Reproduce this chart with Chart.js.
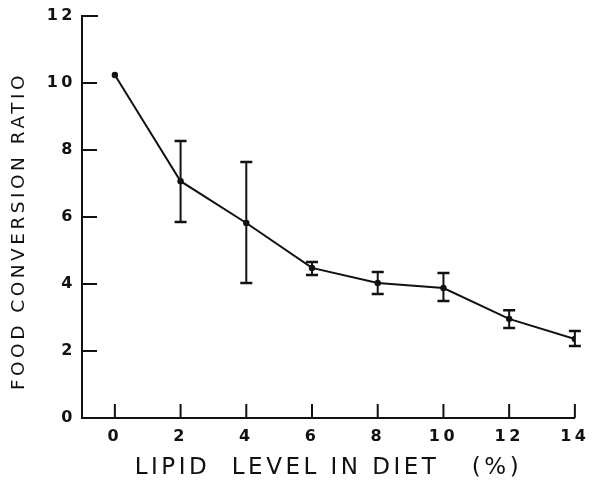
<!DOCTYPE html>
<html>
<head>
<meta charset="utf-8">
<script src="https://cdn.jsdelivr.net/npm/chart.js@4.4.1/dist/chart.umd.min.js"></script>
<style>
  html, body { margin: 0; padding: 0; background: #fff; }
  #wrap { width: 595px; height: 485px; }
</style>
</head>
<body>
<div id="wrap"><canvas id="fcrChart"></canvas></div>
<script>
// Chart Data
const lipidLevel = [0, 2, 4, 6, 8, 10, 12, 14];
const conversionRatio = [10.24, 7.07, 5.82, 4.48, 4.03, 3.88, 2.96, 2.36];
const errorHigh = [null, 8.27, 7.64, 4.66, 4.36, 4.33, 3.22, 2.60];
const errorLow = [null, 5.85, 4.03, 4.27, 3.70, 3.49, 2.69, 2.15];
const xTickValues = [0, 2, 4, 6, 8, 10, 12, 14];
const yTickValues = [0, 2, 4, 6, 8, 10, 12];

const ink = '#111';

// inward tick marks + error bars
const markPlugin = {
    id: 'marks',
    beforeDraw(chart) {
        // old spaced lettering
        chart.ctx.letterSpacing = '3.5px';
    },
    afterDatasetsDraw(chart) {
        const ctx = chart.ctx;
        const x = chart.scales.x;
        const y = chart.scales.y;
        ctx.save();
        ctx.strokeStyle = ink;
        ctx.lineWidth = 2;
        ctx.lineCap = 'butt';

        // y ticks point right into the plot
        yTickValues.forEach(v => {
            if (v === 0) return;
            const py = y.getPixelForValue(v);
            ctx.beginPath();
            ctx.moveTo(x.left, py);
            ctx.lineTo(x.left + (v === 12 ? 16 : 15), py);
            ctx.stroke();
        });
        // x ticks point up into the plot
        xTickValues.forEach(v => {
            const px = x.getPixelForValue(v);
            ctx.beginPath();
            ctx.moveTo(px, y.bottom);
            ctx.lineTo(px, y.bottom - 14);
            ctx.stroke();
        });

        // error bars
        lipidLevel.forEach((v, i) => {
            if (errorHigh[i] == null) return;
            const px = x.getPixelForValue(v);
            const top = y.getPixelForValue(errorHigh[i]);
            const bot = y.getPixelForValue(errorLow[i]);
            ctx.lineWidth = 2;
            ctx.beginPath();
            ctx.moveTo(px, top);
            ctx.lineTo(px, bot);
            ctx.stroke();
            ctx.lineWidth = 2.5;
            ctx.beginPath();
            ctx.moveTo(px - 6, top);
            ctx.lineTo(px + 6, top);
            ctx.moveTo(px - 6, bot);
            ctx.lineTo(px + 6, bot);
            ctx.stroke();
        });
        ctx.restore();
    }
};

document.addEventListener("DOMContentLoaded", function () {
    const ctx = document.getElementById('fcrChart').getContext('2d');
    new Chart(ctx, {
        type: 'line',
        data: {
            datasets: [{
                label: 'Food conversion ratio',
                data: lipidLevel.map((v, i) => ({ x: v, y: conversionRatio[i] })),
                borderColor: ink,
                backgroundColor: ink,
                borderWidth: 2,
                pointRadius: 3.2,
                pointBorderWidth: 0,
                fill: false,
                tension: 0
            }]
        },
        options: {
            responsive: true,
            maintainAspectRatio: false,
            animation: false,
            layout: { padding: { top: 16, right: 12, left: 0, bottom: 0 } },
            plugins: {
                legend: { display: false },
                tooltip: { enabled: false }
            },
            scales: {
                x: {
                    type: 'linear',
                    min: -1,
                    max: 14,
                    afterBuildTicks: s => { s.ticks = xTickValues.map(v => ({ value: v })); },
                    afterFit: s => { s.height = 67; },
                    grid: { display: true, drawOnChartArea: false, drawTicks: false },
                    border: { display: true, color: ink, width: 2 },
                    ticks: {
                        color: ink,
                        padding: 9,
                        maxRotation: 0,
                        autoSkip: false,
                        font: { family: 'DejaVu Sans', size: 16, weight: 'bold' }
                    },
                    title: {
                        display: true,
                        text: 'LIPID  LEVEL IN DIET   (%)',
                        color: ink,
                        padding: { top: 0, bottom: 3 },
                        font: { family: 'DejaVu Sans', size: 23 }
                    }
                },
                y: {
                    type: 'linear',
                    min: 0,
                    max: 12,
                    afterBuildTicks: s => { s.ticks = yTickValues.map(v => ({ value: v })); },
                    afterFit: s => { s.width = 82; },
                    grid: { display: true, drawOnChartArea: false, drawTicks: false },
                    border: { display: true, color: ink, width: 2 },
                    ticks: {
                        color: ink,
                        padding: 6,
                        font: { family: 'DejaVu Sans', size: 16, weight: 'bold' }
                    },
                    title: {
                        display: true,
                        text: 'FOOD CONVERSION RATIO   ',
                        color: ink,
                        padding: { top: 8, bottom: 0 },
                        font: { family: 'DejaVu Sans', size: 18.5 }
                    }
                }
            }
        },
        plugins: [markPlugin]
    });
});
</script>
</body>
</html>
